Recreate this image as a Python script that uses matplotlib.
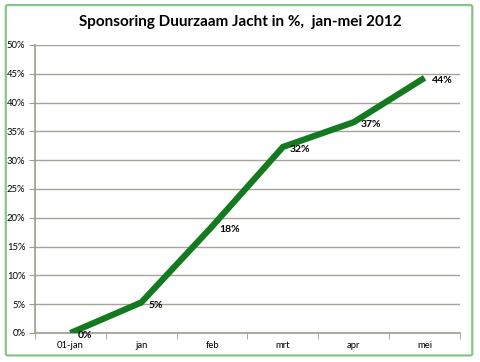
import matplotlib
matplotlib.use('Agg')
import matplotlib.pyplot as plt
from matplotlib.patches import FancyBboxPatch
from matplotlib.ticker import FuncFormatter, FixedLocator

categories = ['01-jan', 'jan', 'feb', 'mrt', 'apr', 'mei']
values = [0.0, 5.3, 18.5, 32.3, 36.6, 44.3]
labels = ['0%', '5%', '18%', '32%', '37%', '44%']

plt.rcParams['font.family'] = ['Lato', 'DejaVu Sans']

fig = plt.figure(figsize=(4.8, 3.62), dpi=100)
fig.patch.set_facecolor('white')

# green frame round the chart
frame = FancyBboxPatch((0.012, 0.018), 0.972, 0.968, boxstyle='round,pad=0,rounding_size=0.005',
                       transform=fig.transFigure, fill=False, edgecolor='#86c586', linewidth=1.6)
fig.patches.append(frame)

ax = fig.add_axes([35 / 480, 1 - 333 / 362, (460 - 35) / 480, (333 - 45) / 362])

x = list(range(len(categories)))
ax.plot(x, values, color='#137a1f', linewidth=4.5, solid_capstyle='butt', solid_joinstyle='miter', zorder=3)
for xi, v, lab in zip(x, values, labels):
    ax.annotate(lab, (xi, v), xytext=(5, -2), textcoords='offset points',
                fontsize=7.5, fontweight='bold', va='center', ha='left', zorder=4)

ax.set_xlim(-0.5, len(categories) - 0.5)
ax.set_ylim(0, 50)
ax.set_yticks(range(0, 51, 5))
ax.yaxis.set_major_formatter(FuncFormatter(lambda v, p: f'{int(v)}%'))
ax.set_xticks(x)
ax.set_xticklabels(categories)
ax.xaxis.set_minor_locator(FixedLocator([i - 0.5 for i in range(len(categories) + 1)]))
ax.tick_params(axis='x', which='major', length=0, labelsize=6.8, pad=6)
ax.tick_params(axis='x', which='minor', length=4, color='#a09a90', direction='out')
ax.tick_params(axis='y', length=4, color='#a09a90', labelsize=6.8, pad=3)

ax.grid(axis='y', color='#a8a298', linewidth=1)
ax.set_axisbelow(True)
for s in ['top', 'right']:
    ax.spines[s].set_visible(False)
for s in ['left', 'bottom']:
    ax.spines[s].set_color('#a09a90')
    ax.spines[s].set_linewidth(1.2)

fig.text(0.5, 1 - 22 / 362, 'Sponsoring Duurzaam Jacht in %,  jan-mei 2012',
         ha='center', va='center', fontsize=11, fontweight='bold')

fig.savefig('out.png', dpi=100)
